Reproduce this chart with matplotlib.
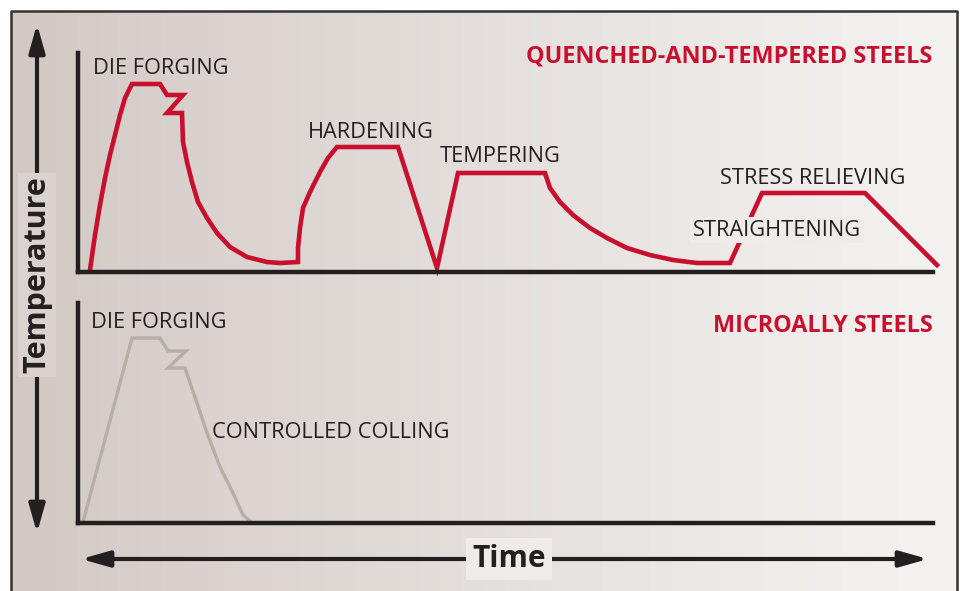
import matplotlib.pyplot as plt
import numpy as np
from matplotlib.colors import LinearSegmentedColormap

plt.rcParams['font.family'] = ['Open Sans', 'DejaVu Sans']

W, H = 960, 591
RED = '#c8102e'
GREY = '#b9ada5'
INK = '#231f20'

# quenched-and-tempered route (time, temperature)
qt_time = [12, 17, 22, 27, 32, 37, 42, 47, 54, 82, 89, 105, 89, 104,
           105, 109, 114, 120, 129, 139, 152, 169, 189, 202, 220,
           220, 222, 225, 232, 242, 250, 259, 320, 359, 380,
           467, 472, 482, 495, 512, 529, 549, 572, 595, 619, 652,
           684, 787, 859]
qt_temp = [2, 37, 67, 94, 117, 137, 157, 174, 188, 188, 177, 177, 159, 159,
           130, 110, 90, 70, 54, 39, 25, 15, 10, 9, 10,
           24, 44, 64, 80, 100, 114, 125, 125, 4, 99,
           99, 84, 70, 57, 44, 34, 24, 17, 12, 9, 9,
           79, 79, 7]

# microalloyed route
ma_time = [5, 54, 82, 90, 108, 90, 107, 119, 129, 142, 155, 165, 172]
ma_temp = [1, 185, 185, 172, 172, 155, 155, 120, 90, 56, 30, 8, 2]

top_labels = ['DIE FORGING', 'HARDENING', 'TEMPERING', 'STRESS RELIEVING', 'STRAIGHTENING']
top_label_t = [15, 230, 362, 642, 615]
top_label_T = [204, 139, 115, 94, 42]
bot_labels = ['DIE FORGING', 'CONTROLLED COLLING']
bot_label_t = [13, 134]
bot_label_T = [200, 90]

fig = plt.figure(figsize=(W / 100, H / 100), dpi=100)
fig.patch.set_facecolor('white')

# background, frame, axis arrows (pixel coordinates)
bg = fig.add_axes([0, 0, 1, 1])
bg.set_xlim(0, W)
bg.set_ylim(H, 0)
bg.axis('off')
cmap = LinearSegmentedColormap.from_list('bg', ['#d2c9c4', '#e4dfdc', '#f5f3f2'])
bg.imshow(np.linspace(0, 1, 256)[None, :], cmap=cmap, aspect='auto',
          extent=[11, 957, H, 11], zorder=0)
bg.plot([11, 11, 957, 957], [H, 11, 11, H], color='#333333', lw=1.8, zorder=1)

arrow = dict(arrowstyle='<|-|>,head_length=0.85,head_width=0.24', lw=3, color=INK,
             mutation_scale=20, shrinkA=0, shrinkB=0)
bg.annotate('', xy=(37, 24), xytext=(37, 533), arrowprops=arrow, zorder=2)
bg.annotate('', xy=(928, 559), xytext=(81, 559), arrowprops=arrow, zorder=2)
bg.text(37, 275, 'Temperature', rotation=90, ha='center', va='center',
        fontsize=22, fontweight='bold', color=INK, zorder=3,
        bbox=dict(boxstyle='square,pad=0.12', fc='#d9d2ce', ec='none'))
bg.text(509, 559, 'Time', ha='center', va='center', fontsize=21.5, fontweight='bold',
        color=INK, zorder=3, bbox=dict(boxstyle='square,pad=0.2', fc='#efebe9', ec='none'))
bg.text(932, 57, 'QUENCHED-AND-TEMPERED STEELS', ha='right', va='center',
        fontsize=16.8, fontweight='bold', color=RED)
bg.text(933, 326, 'MICROALLY STEELS', ha='right', va='center',
        fontsize=16.8, fontweight='bold', color=RED)


def panel(left, right, top, bottom):
    ax = fig.add_axes([left / W, 1 - bottom / H, (right - left) / W, (bottom - top) / H])
    ax.patch.set_alpha(0)
    ax.set_xlim(0, right - left)
    ax.set_ylim(0, bottom - top)
    for s in ['top', 'right']:
        ax.spines[s].set_visible(False)
    for s in ['left', 'bottom']:
        ax.spines[s].set_linewidth(3.2)
        ax.spines[s].set_color(INK)
    ax.set_xticks([])
    ax.set_yticks([])
    return ax


ax1 = panel(78, 933, 53, 272)
ax1.plot(qt_time, qt_temp, color=RED, lw=3.3, solid_joinstyle='miter', clip_on=False)
for lab, t, T in zip(top_labels, top_label_t, top_label_T):
    kw = {}
    if lab == 'STRAIGHTENING':
        kw['bbox'] = dict(boxstyle='square,pad=0.12', fc='#eeebe9', ec='none')
    ax1.text(t, T, lab, ha='left', va='center', fontsize=15.7, color=INK, zorder=5, **kw)

ax2 = panel(78, 933, 303, 523)
ax2.plot(ma_time, ma_temp, color=GREY, lw=2.4, solid_joinstyle='miter', clip_on=False)
for lab, t, T in zip(bot_labels, bot_label_t, bot_label_T):
    ax2.text(t, T, lab, ha='left', va='center', fontsize=15.7, color=INK)

fig.savefig('out.png', dpi=100)
